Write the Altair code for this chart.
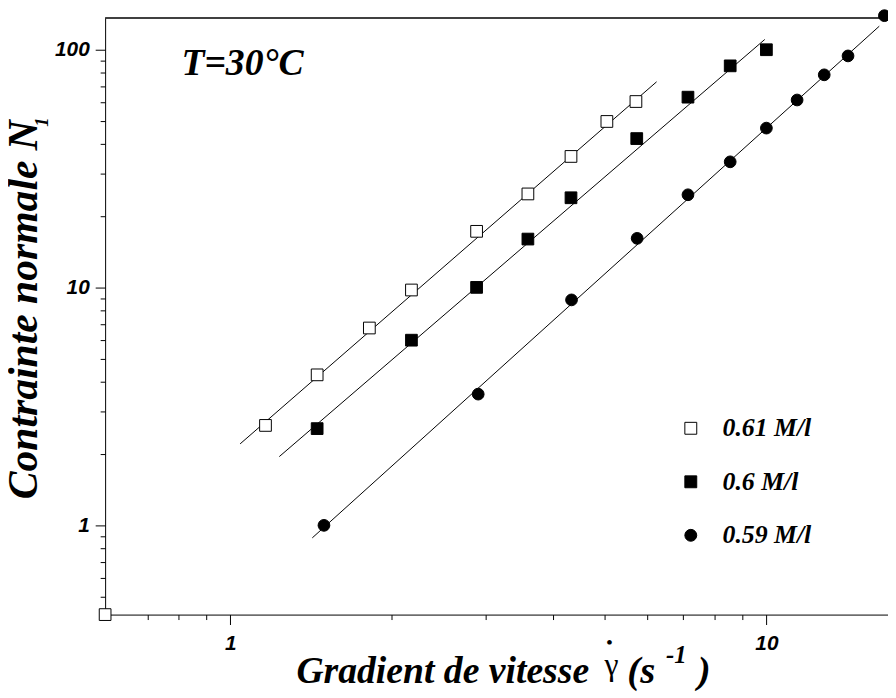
import altair as alt
import pandas as pd

# ---------------- data ----------------
series_names = ["0.61 M/l", "0.6 M/l", "0.59 M/l"]

x_061 = [1.163, 1.452, 1.817, 2.177, 2.88, 3.59, 4.32, 5.04, 5.71]
y_061 = [2.63, 4.29, 6.75, 9.75, 17.2, 24.7, 35.5, 49.8, 60.4]
x_060 = [1.452, 2.177, 2.88, 3.59, 4.32, 5.73, 7.14, 8.56, 10.0]
y_060 = [2.55, 6.0, 10.0, 15.96, 23.8, 42.2, 63.0, 85.3, 99.7]
x_059 = [1.495, 2.90, 4.33, 5.74, 7.14, 8.56, 10.0, 11.41, 12.82, 14.2, 16.6]
y_059 = [1.0, 3.56, 8.86, 16.07, 24.5, 33.7, 46.7, 61.3, 78.2, 93.9, 138.6]
# stray open square sitting in the axes corner
x_corner = [0.584]
y_corner = [0.4217]

# power-law fit lines (end points)
fit_x_061 = [1.043, 6.24]
fit_y_061 = [2.20, 73.1]
fit_x_060 = [1.234, 9.93]
fit_y_060 = [1.945, 110.1]
fit_x_059 = [1.422, 16.24]
fit_y_059 = [0.886, 125.2]

x_domain = [0.584, 16.86]
y_domain = [0.4217, 135.5]
x_ticks = [0.7, 0.8, 0.9, 1, 2, 3, 4, 5, 6, 7, 8, 9, 10]
y_ticks = [0.5, 0.6, 0.7, 0.8, 0.9, 1, 2, 3, 4, 5, 6, 7, 8, 9, 10,
           20, 30, 40, 50, 60, 70, 80, 90, 100]

temp_label = "T=30°C"
y_title_main = "Contrainte normale  N"
y_title_sub = "1"
x_title_main = "Gradient de vitesse"
x_title_gamma = "γ"
x_title_dot = "•"
x_title_open = "(s"
x_title_exp = "-1"
x_title_close = ")"

# ---------------- tables ----------------
pts = pd.DataFrame(
    [{"x": a, "y": b, "series": series_names[0]} for a, b in zip(x_061, y_061)]
    + [{"x": a, "y": b, "series": series_names[0]} for a, b in zip(x_corner, y_corner)]
    + [{"x": a, "y": b, "series": series_names[1]} for a, b in zip(x_060, y_060)]
    + [{"x": a, "y": b, "series": series_names[2]} for a, b in zip(x_059, y_059)]
)
fits = pd.DataFrame(
    [{"x": a, "y": b, "series": series_names[0]} for a, b in zip(fit_x_061, fit_y_061)]
    + [{"x": a, "y": b, "series": series_names[1]} for a, b in zip(fit_x_060, fit_y_060)]
    + [{"x": a, "y": b, "series": series_names[2]} for a, b in zip(fit_x_059, fit_y_059)]
)

W, H = 790, 602
SERIF = "Liberation Serif"
SANS = "Liberation Sans"

major_x = "datum.value == 1 || datum.value == 10"
major_y = "datum.value == 1 || datum.value == 10 || datum.value == 100"

x_enc = alt.X(
    "x:Q",
    scale=alt.Scale(type="log", domain=x_domain, nice=False, zero=False),
    axis=alt.Axis(
        values=x_ticks, title=None, grid=False,
        labelExpr=f"({major_x}) ? format(datum.value, 'd') : ''",
        tickSize={"condition": {"test": major_x, "value": 10}, "value": 5},
        labelPadding=8, labelFont=SANS, labelFontSize=21,
        labelFontStyle="italic", labelFontWeight="bold", labelColor="black",
        domainColor="black", tickColor="black", labelFlush=False,
    ),
)
y_enc = alt.Y(
    "y:Q",
    scale=alt.Scale(type="log", domain=y_domain, nice=False, zero=False),
    axis=alt.Axis(
        values=y_ticks, title=None, grid=False,
        labelExpr=f"({major_y}) ? format(datum.value, 'd') : ''",
        tickSize={"condition": {"test": major_y, "value": 10}, "value": 5},
        labelPadding=6, labelFont=SANS, labelFontSize=21,
        labelFontStyle="italic", labelFontWeight="bold", labelColor="black",
        domainColor="black", tickColor="black", labelFlush=False,
    ),
)

lines = alt.Chart(fits).mark_line(color="black", strokeWidth=1).encode(
    x=x_enc, y=y_enc, detail="series:N"
)

legend = alt.Legend(
    title=None, orient="none", legendX=578, legendY=401,
    labelFont=SERIF, labelFontSize=26, labelFontStyle="italic",
    labelFontWeight="bold", labelColor="black", labelOffset=19,
    symbolSize=144, symbolStrokeColor="black", symbolStrokeWidth=1,
    rowPadding=28, padding=0,
)

points = alt.Chart(pts).mark_point(
    filled=True, strokeWidth=1, size=140, opacity=1, fillOpacity=1
).encode(
    x=x_enc, y=y_enc,
    shape=alt.Shape("series:N", scale=alt.Scale(domain=series_names,
                    range=["square", "square", "circle"]), legend=legend),
    fill=alt.Fill("series:N", scale=alt.Scale(domain=series_names,
                  range=["white", "black", "black"]), legend=legend),
    stroke=alt.Stroke("series:N", scale=alt.Scale(domain=series_names,
                      range=["black", "black", "black"]), legend=legend),
)

one_row = pd.DataFrame({"k": [0]})

top_line = alt.Chart(one_row).mark_rule(color="black", strokeWidth=1.3).encode(
    x=alt.value(0), x2=alt.value(W), y=alt.value(0)
)


def label(text, x, y, size, style="italic", weight="bold", font=SERIF,
          align="left", baseline="alphabetic", angle=0):
    return alt.Chart(pd.DataFrame({"t": [text]})).mark_text(
        font=font, fontSize=size, fontStyle=style, fontWeight=weight,
        align=align, baseline=baseline, angle=angle, color="black",
    ).encode(x=alt.value(x), y=alt.value(y), text="t:N")


annotations = [
    label(temp_label, 77, 58, 38),
    label(y_title_main, -69, 103, 42, align="right", angle=270),
    label(y_title_sub, -58, 105, 19, align="center", angle=270),
    label(x_title_main, 193, 671, 38),
    label(x_title_gamma, 511, 663, 32, style="normal", weight="normal", align="center"),
    label(x_title_dot, 509, 631, 20, style="normal", weight="normal",
          align="center", baseline="middle"),
    label(x_title_open, 527, 671, 39),
    label(x_title_exp, 566, 651, 25),
    label(x_title_close, 598, 671, 39),
]

chart = alt.layer(lines, top_line, points, *annotations).properties(
    width=W, height=H,
    padding={"left": 98, "top": 7, "right": 0, "bottom": 75},
    autosize=alt.AutoSizeParams(type="none"),
    background="white",
).configure_view(stroke=None).configure_axis(
    domainWidth=1, tickWidth=1
)

chart.save("out.html", embed_options={"renderer": "svg", "actions": False})
